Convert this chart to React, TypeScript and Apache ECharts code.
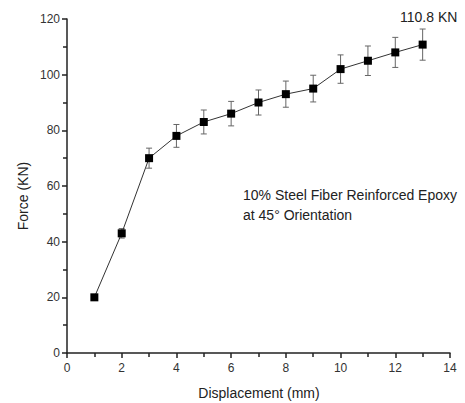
import React, { useEffect, useRef } from "react";
import * as echarts from "echarts";

const displacement = [1, 2, 3, 4, 5, 6, 7, 8, 9, 10, 11, 12, 13];
const force = [20, 43, 70, 78, 83, 86, 90, 93, 95, 102, 105, 108, 110.8];
const errors = [0, 1.7, 3.6, 4.1, 4.3, 4.4, 4.5, 4.7, 4.8, 5.1, 5.3, 5.4, 5.6];
const xTicks = { min: 0, max: 14, interval: 2 };
const yTicks = { min: 0, max: 120, interval: 20 };
const peakLabel = "110.8 KN";
const noteLines = ["10% Steel Fiber Reinforced Epoxy", "at 45° Orientation"];

const FONT = "'Liberation Sans', Arial, sans-serif";

export default function App() {
  const ref = useRef<HTMLDivElement>(null);
  useEffect(() => {
    if (!ref.current) return;
    const chart = echarts.init(ref.current, undefined, { renderer: "svg" });
    const lineData = displacement.map((x, i) => [x, force[i]]);
    const errData = displacement
      .map((x, i) => [x, force[i] - errors[i], force[i] + errors[i]])
      .filter((d, i) => errors[i] > 0);
    chart.setOption({
      animation: false,
      backgroundColor: "#fff",
      textStyle: { fontFamily: FONT },
      grid: { left: 67, right: 15, top: 19, bottom: 50 },
      xAxis: {
        type: "value",
        min: xTicks.min,
        max: xTicks.max,
        interval: xTicks.interval,
        axisLine: { lineStyle: { color: "#222", width: 1.5 } },
        axisTick: { show: true, length: 5, lineStyle: { color: "#222", width: 1.5 } },
        minorTick: { show: true, splitNumber: 2, length: 4, lineStyle: { color: "#222", width: 1.5 } },
        splitLine: { show: false },
        axisLabel: { color: "#333", fontSize: 12, fontFamily: FONT, margin: 9 },
      },
      yAxis: {
        type: "value",
        min: yTicks.min,
        max: yTicks.max,
        interval: yTicks.interval,
        axisLine: { show: true, lineStyle: { color: "#222", width: 1.5 } },
        axisTick: { show: true, length: 5, lineStyle: { color: "#222", width: 1.5 } },
        minorTick: { show: true, splitNumber: 2, length: 4, lineStyle: { color: "#222", width: 1.5 } },
        splitLine: { show: false },
        axisLabel: { color: "#333", fontSize: 12, fontFamily: FONT, margin: 7 },
      },
      graphic: [
        {
          type: "text",
          left: 400,
          top: 10,
          style: { text: peakLabel, fontSize: 14, fontFamily: FONT, fill: "#222" },
        },
        {
          type: "text",
          left: 243,
          top: 185,
          style: { text: noteLines.join("\n"), fontSize: 14, lineHeight: 20, fontFamily: FONT, fill: "#222" },
        },
        {
          type: "text",
          x: 23,
          y: 196,
          rotation: Math.PI / 2,
          style: { text: "Force (KN)", fontSize: 14, fontFamily: FONT, fill: "#222", align: "center", verticalAlign: "middle" },
        },
        {
          type: "text",
          x: 259,
          y: 393,
          style: { text: "Displacement (mm)", fontSize: 14, fontFamily: FONT, fill: "#222", align: "center", verticalAlign: "middle" },
        },
      ],
      series: [
        {
          type: "custom",
          data: errData,
          z: 1,
          renderItem: (params: any, api: any) => {
            const x = api.value(0);
            const lo = api.coord([x, api.value(1)]);
            const hi = api.coord([x, api.value(2)]);
            const hw = 3;
            const style = { stroke: "#666", lineWidth: 1 };
            return {
              type: "group",
              children: [
                { type: "line", shape: { x1: lo[0], y1: lo[1], x2: hi[0], y2: hi[1] }, style },
                { type: "line", shape: { x1: lo[0] - hw, y1: lo[1], x2: lo[0] + hw, y2: lo[1] }, style },
                { type: "line", shape: { x1: hi[0] - hw, y1: hi[1], x2: hi[0] + hw, y2: hi[1] }, style },
              ],
            };
          },
        },
        {
          type: "line",
          data: lineData,
          z: 3,
          symbol: "rect",
          symbolSize: 8,
          itemStyle: { color: "#000" },
          lineStyle: { color: "#333", width: 1 },
        },
      ],
    });
    return () => chart.dispose();
  }, []);
  return <div ref={ref} style={{ position: "fixed", left: 0, top: 0, width: 465, height: 403 }} />;
}
